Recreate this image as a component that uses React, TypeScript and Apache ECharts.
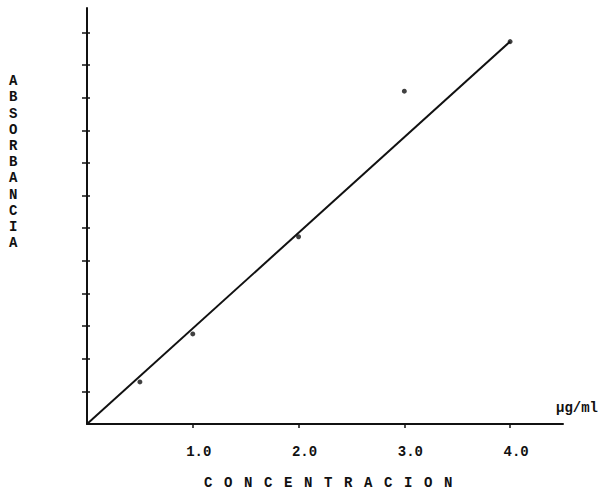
import React, { useEffect, useRef } from "react";
import * as echarts from "echarts";

const concentration = [0.5, 1.0, 2.0, 3.0, 4.0];
const absorbance = [1.29, 2.76, 5.74, 10.2, 11.72];
const fitX = [0, 4.0];
const fitY = [0, 11.72];
const xTicks = [1, 2, 3, 4];
const yTicks = [1, 2, 3, 4, 5, 6, 7, 8, 9, 10, 11, 12];
const yTitle = "ABSORBANCIA";
const xTitle = "CONCENTRACION";
const unitLabel = "µg/ml";

const FONT = "'Liberation Mono', 'Courier New', monospace";

export default function App() {
  const ref = useRef<HTMLDivElement>(null);
  useEffect(() => {
    document.body.style.margin = "0";
    const chart = echarts.init(ref.current!, null, { renderer: "svg" });
    const xLetters = xTitle.split("").map((ch, i) => ({
      type: "text",
      left: 204 + i * 20,
      top: 476,
      style: { text: ch, font: `bold 14px ${FONT}`, fill: "#111" },
    }));
    chart.setOption({
      animation: false,
      backgroundColor: "#fff",
      grid: { left: 87, top: 8, right: 44, bottom: 67, containLabel: false },
      xAxis: {
        type: "value",
        min: 0,
        max: 4.5,
        axisLine: { show: true, onZero: false, lineStyle: { color: "#111", width: 2 } },
        axisTick: { show: true, customValues: xTicks, length: 4, lineStyle: { color: "#111", width: 1.5 } },
        axisLabel: {
          show: true,
          customValues: xTicks,
          formatter: (v: number) => v.toFixed(1),
          margin: 21,
          padding: [0, 0, 0, 12],
          fontFamily: FONT,
          fontWeight: "bold",
          fontSize: 14,
          color: "#111",
        },
        splitLine: { show: false },
      },
      yAxis: [
        {
          type: "value",
          min: 0,
          max: 12.75,
          axisLine: { show: true, onZero: false, lineStyle: { color: "#111", width: 2 } },
          axisTick: { show: true, customValues: yTicks, length: 5, lineStyle: { color: "#111", width: 1.5 } },
          axisLabel: { show: false },
          splitLine: { show: false },
        },
        {
          type: "value",
          position: "left",
          min: 0,
          max: 12.75,
          axisLine: { show: false },
          axisTick: { show: true, inside: true, customValues: yTicks, length: 3, lineStyle: { color: "#111", width: 1.5 } },
          axisLabel: { show: false },
          splitLine: { show: false },
        },
      ],
      series: [
        {
          type: "line",
          data: fitX.map((x, i) => [x, fitY[i]]),
          symbol: "none",
          lineStyle: { color: "#111", width: 2 },
          z: 2,
        },
        {
          type: "scatter",
          data: concentration.map((x, i) => [x, absorbance[i]]),
          symbol: "circle",
          symbolSize: 5,
          itemStyle: { color: "#111" },
          z: 3,
        },
      ],
      graphic: [
        {
          type: "text",
          left: 9,
          top: 73,
          style: {
            text: yTitle.split("").join("\n"),
            font: `bold 14px ${FONT}`,
            lineHeight: 16.2,
            fill: "#111",
            align: "center",
          },
        },
        {
          type: "text",
          right: 9,
          top: 401,
          style: { text: unitLabel, font: `bold 14px ${FONT}`, fill: "#111" },
        },
        ...xLetters,
      ],
    });
    return () => chart.dispose();
  }, []);
  return <div ref={ref} style={{ width: 607, height: 491 }} />;
}
